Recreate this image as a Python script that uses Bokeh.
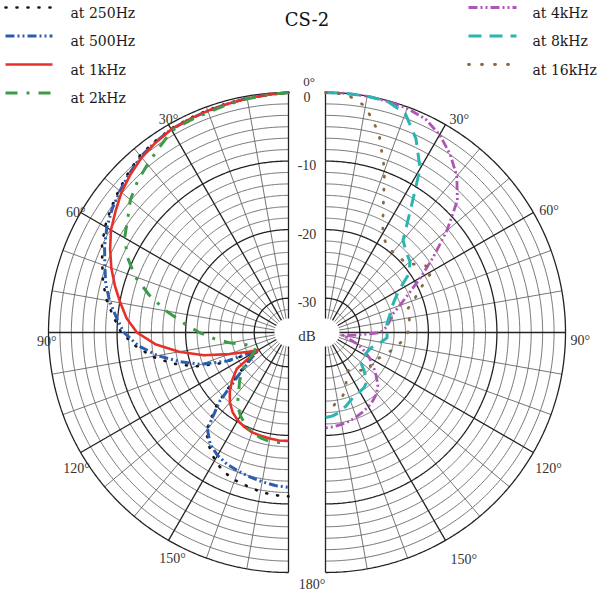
import numpy as np
from bokeh.plotting import figure
from bokeh.models import Range1d
from bokeh.core.properties import value
from bokeh.embed import file_html
from bokeh.resources import INLINE

# ---------------- data ----------------
TITLE = "CS-2"
ANGLES_DEG = [0, 5, 10, 15, 20, 25, 30, 35, 40, 45, 50, 55, 60, 65, 70, 75, 80, 85, 90,
              95, 100, 105, 110, 115, 120, 125, 130, 135, 140, 145, 150, 155, 160, 165, 170, 175, 180]

# left half
DB_250HZ = [0, -0.2, -0.3, -0.4, -0.5, -0.6, -0.7, -1.0, -1.3, -2.0, -2.7, -3.4, -4.1, -5.0, -6.1, -7.0,
            -8.1, -9.4, -10.6, -12.6, -14.8, -17.5, -20.5, -24.5, -29.8, -28.0, -25.3, -20.3, -16.3,
            -14.8, -13.5, -12.6, -12.1, -11.8, -11.4, -11.2, -11.1]
DB_500HZ = [0, -0.2, -0.3, -0.5, -0.6, -0.7, -0.8, -1.1, -1.5, -2.2, -2.9, -3.6, -4.4, -5.4, -6.5, -7.4,
            -8.5, -9.8, -11.0, -13.0, -15.6, -18.6, -21.4, -25.2, -30.0, -28.3, -25.8, -20.8, -16.6,
            -15.1, -14.3, -13.8, -13.5, -13.2, -12.9, -12.6, -12.4]
DB_1KHZ = [0, -0.2, -0.35, -0.5, -0.6, -0.7, -0.8, -1.2, -1.7, -2.4, -3.2, -4.2, -5.1, -6.3, -7.5, -8.8,
           -10.1, -11.3, -12.9, -15.5, -18.8, -22.2, -25.8, -28.3, -29.8, -25.8, -24.3, -22.9, -21.7,
           -20.8, -20.2, -19.8, -19.5, -19.4, -19.3, -19.2, -19.2]
DB_2KHZ = [0, -0.2, -0.4, -0.6, -0.8, -0.9, -1.0, -2.1, -3.0, -3.85, -4.9, -6.35, -7.4, -9.1, -11.2, -14.0,
           -16.9, -19.7, -22.0, -24.2, -26.3, -28.3, -29.3, -29.7, -29.2, -27.6, -26.1, -24.9, -23.7,
           -22.0, -21.0, -20.1, -19.5, -19.1, -18.9, -18.9, -18.9]
# right half
DB_4KHZ = [0, 0, 0, -0.1, -0.2, -0.6, -1.7, -3.3, -5.2, -7.8, -11.9, -15.8, -19.0, -21.6, -23.5, -24.9,
           -25.5, -26.1, -27.0, -30.5, -32.5, -31.5, -30.0, -28.8, -27.6, -26.5, -25.4, -24.2, -23.4,
           -22.9, -22.5, -22.2, -21.9, -21.6, -21.4, -21.2, -21.1]
DB_8KHZ = [0, 0, 0, -0.1, -1.0, -3.8, -7.4, -13.5, -17.4, -18.4, -18.9, -20.2, -22.6, -23.9, -24.8, -25.3,
           -25.8, -26.1, -26.0, -26.0, -26.8, -27.6, -28.1, -28.3, -28.4, -28.4, -28.3, -27.0, -25.6,
           -25.2, -25.0, -24.9, -24.4, -23.8, -23.2, -22.8, -22.6]
DB_16KHZ = [0, -0.1, -1.5, -4.9, -9.8, -15.1, -18.3, -19.5, -19.7, -19.6, -19.5, -17.6, -17.0, -19.7, -21.3,
            -22.8, -22.6, -22.7, -23.0, -23.5, -24.3, -25.0, -25.7, -26.3, -26.7, -27.0, -26.5, -27.2,
            -27.8, -28.3, -28.6, -27.9, -26.2, -25.4, -24.9, -24.0, -23.3]

LEFT_NAMES = ["at 250Hz", "at 500Hz", "at 1kHz", "at 2kHz"]
RIGHT_NAMES = ["at 4kHz", "at 8kHz", "at 16kHz"]
ANGLE_TICKS = [30, 60, 90, 120, 150]
DB_TICKS = [0, -10, -20, -30]
DB_MIN = -35.0
DB_MAX = 0.0
RING_DIVISIONS = 6      # minor rings per 10 dB
RADIAL_STEP = 10        # degrees between radial lines

# ---------------- styles / layout ----------------
STYLE = {
    "at 250Hz": dict(color="#151515", width=2.6, dash="1 10", cap="round"),
    "at 500Hz": dict(color="#2a5db0", width=3.0, dash="9 3 2 3 2 3", cap="butt"),
    "at 1kHz": dict(color="#e8302a", width=2.6, dash="solid", cap="butt"),
    "at 2kHz": dict(color="#3c9a48", width=3.0, dash="12 9 3 9", cap="butt"),
    "at 4kHz": dict(color="#b055b5", width=2.8, dash="9 3 2 3 2 3", cap="butt"),
    "at 8kHz": dict(color="#2bb5b0", width=3.0, dash="13 8", cap="butt"),
    "at 16kHz": dict(color="#8a6a42", width=2.8, dash="1 12", cap="round"),
}
SERIES = {
    "at 250Hz": ("L", DB_250HZ), "at 500Hz": ("L", DB_500HZ),
    "at 1kHz": ("L", DB_1KHZ), "at 2kHz": ("L", DB_2KHZ),
    "at 4kHz": ("R", DB_4KHZ), "at 8kHz": ("R", DB_8KHZ), "at 16kHz": ("R", DB_16KHZ),
}

W, H = 598, 594
CX_L, CX_R, CY, R = 296.0, 333.0, 340.0, 240.0
R_HOLE = 14.0
SERIF = "DejaVu Serif"
TICKFONT = "Liberation Serif"


def radius(db):
    return R * (np.asarray(db, float) - DB_MIN) / (DB_MAX - DB_MIN)


def polar(theta, r, side):
    t = np.radians(np.asarray(theta, float))
    r = np.asarray(r, float)
    if side == "L":
        return CX_L - r * np.sin(t), CY - r * np.cos(t)
    return CX_R + r * np.sin(t), CY - r * np.cos(t)


p = figure(width=W, height=H, x_range=Range1d(8, 8 + W), y_range=Range1d(8 + H, 8),
           output_backend="svg", toolbar_location=None, min_border=0,
           x_axis_location=None, y_axis_location=None)
p.grid.visible = False
p.outline_line_color = None
p.background_fill_color = "white"
p.border_fill_color = "white"

# ---------------- grid ----------------
arc = np.linspace(0, 180, 361)
mnx, mny, mjx, mjy = [], [], [], []
n_rings = int(round((DB_MAX - DB_MIN) / 10 * RING_DIVISIONS))
for side in ("L", "R"):
    for k in range(n_rings + 1):
        d = DB_MAX - k * 10.0 / RING_DIVISIONS
        r = float(radius(d))
        if r < R_HOLE:
            continue
        x, y = polar(arc, r, side)
        if k % RING_DIVISIONS == 0:
            mjx.append(list(x)); mjy.append(list(y))
        else:
            mnx.append(list(x)); mny.append(list(y))
    for a in range(0, 181, RADIAL_STEP):
        x, y = polar([a, a], [R_HOLE, R], side)
        if a % 30 == 0:
            mjx.append(list(x)); mjy.append(list(y))
        else:
            mnx.append(list(x)); mny.append(list(y))

p.multi_line(mnx, mny, line_color="#666666", line_width=0.9)
p.multi_line(mjx, mjy, line_color="#222222", line_width=1.3)

# ---------------- curves ----------------
for name, (side, dbs) in SERIES.items():
    st = STYLE[name]
    x, y = polar(ANGLES_DEG, radius(dbs), side)
    p.line(x, y, line_color=st["color"], line_width=st["width"], line_dash=st["dash"],
           line_cap=st["cap"], line_join="round")

# ---------------- legend (manual) ----------------
def legend_block(names, x0, x1, xl, y0, dy):
    for i, name in enumerate(names):
        st = STYLE[name]
        yy = y0 + i * dy
        p.line([x0, x1], [yy, yy], line_color=st["color"], line_width=st["width"],
               line_dash=st["dash"], line_cap=st["cap"])
        p.text([xl], [yy + 5], text=[name], text_font=value(SERIF), text_font_size="14px",
               text_color="#1a1a1a", text_align="left", text_baseline="middle")

legend_block(LEFT_NAMES, 13, 60, 78, 15, 28.5)
legend_block(RIGHT_NAMES, 476, 524, 540, 15, 28.5)

# ---------------- texts ----------------
p.text([(CX_L + CX_R) / 2], [27], text=[TITLE], text_font=value(SERIF), text_font_size="18px",
       text_color="#111111", text_align="center", text_baseline="middle")

xm = (CX_L + CX_R) / 2
ry = [CY - float(radius(d)) + 4 for d in DB_TICKS]
p.text([xm] * len(DB_TICKS), ry, text=[str(d) for d in DB_TICKS], text_font=value(TICKFONT),
       text_font_size="14px", text_color="#333333", text_align="center", text_baseline="middle")
p.text([xm], [CY + 3], text=["dB"], text_font=value(TICKFONT), text_font_size="15px",
       text_color="#333333", text_align="center", text_baseline="middle")
p.text([xm + 2], [CY - R - 11], text=["0°"], text_font=value(TICKFONT), text_font_size="13px",
       text_color="#333333", text_align="center", text_baseline="middle")
p.text([xm + 5], [CY + R + 12], text=["180°"], text_font=value(TICKFONT), text_font_size="14px",
       text_color="#333333", text_align="center", text_baseline="middle")

# angle labels: offsets (dx, dy, align, baseline) relative to the ring point
LOFF = {30: (0, 2, "center", "bottom"), 60: (5, 0, "right", "middle"), 90: (8, 1, "right", "top"),
        120: (-4, 8, "center", "top"), 150: (4, 11, "center", "top")}
ROFF = {30: (4, 2, "left", "bottom"), 60: (6, -2, "left", "middle"), 90: (5, 0, "left", "top"),
        120: (2, 8, "left", "top"), 150: (5, 12, "left", "top")}
for side, offs in (("L", LOFF), ("R", ROFF)):
    for a in ANGLE_TICKS:
        bx, by = polar(a, R, side)
        dx, dy, al, bl = offs[a]
        p.text([float(bx) + dx], [float(by) + dy], text=[f"{a}°"], text_font=value(TICKFONT),
               text_font_size="14px", text_color="#333333", text_align=al, text_baseline=bl)

open("out.html", "w").write(file_html(p, INLINE))
